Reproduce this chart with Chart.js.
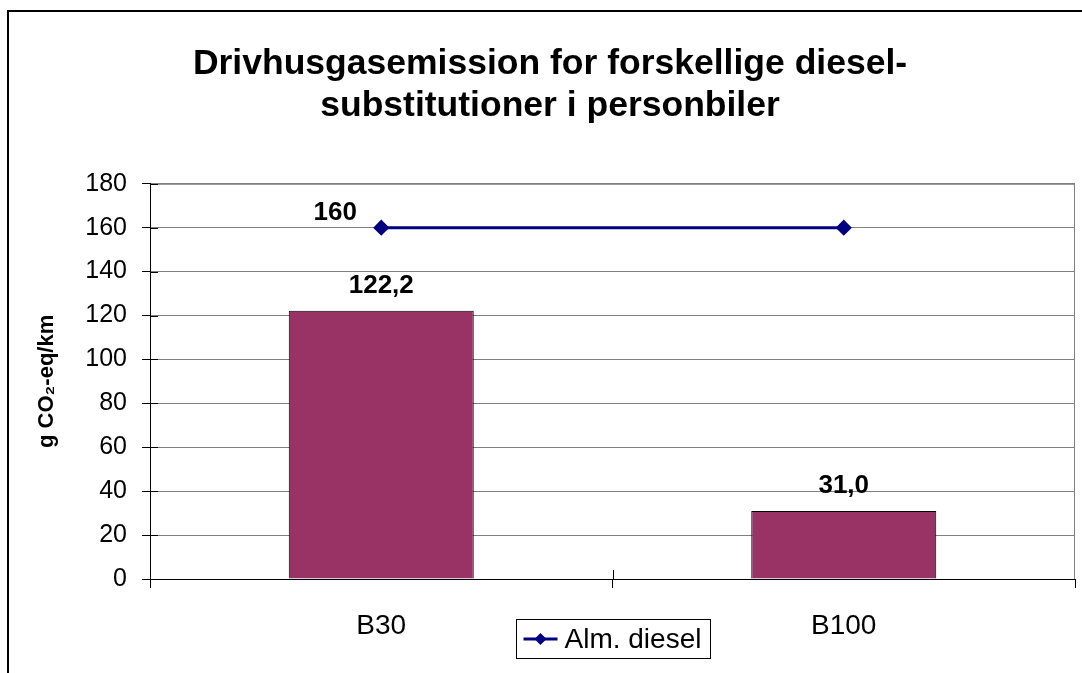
<!DOCTYPE html>
<html>
<head>
<meta charset="utf-8">
<script src="https://cdn.jsdelivr.net/npm/chart.js@4.4.1/dist/chart.umd.min.js"></script>
<style>
  html, body { margin: 0; padding: 0; background: #fff; overflow: hidden; }
  #ramme { position: absolute; left: 7px; top: 10px; width: 1100px; height: 700px; border-left: 2px solid #000; border-top: 2px solid #000; }
  #boks { position: absolute; left: 0; top: 0; width: 1082px; height: 661px; }
</style>
</head>
<body>
<div id="ramme"><div id="boks"><canvas id="graf"></canvas></div></div>
<script>
const kategorier = ['B30', 'B100'];
const biodieselVaerdier = [122.2, 31.0];
const almDiesel = [160, 160];
const yTicks = [0, 20, 40, 60, 80, 100, 120, 140, 160, 180];

const skrift = 'Arial, "Liberation Sans", sans-serif';
Chart.defaults.font.family = skrift;
Chart.defaults.color = '#000';

function komma(v, dec) {
    return v.toFixed(dec).replace('.', ',');
}

// grå ramme om plotområdet + krydsende akse-streger
const plotRamme = {
    id: 'plotRamme',
    beforeDraw(chart) {
        const a = chart.chartArea, ctx = chart.ctx;
        ctx.save();
        ctx.strokeStyle = '#808080';
        ctx.lineWidth = 1;
        ctx.strokeRect(a.left + 0.5, a.top + 0.5, a.right - a.left - 1, a.bottom - a.top);
        ctx.restore();
    },
    afterDraw(chart) {
        const a = chart.chartArea, ctx = chart.ctx;
        const y = chart.scales.y, x = chart.scales.x;
        ctx.save();
        ctx.strokeStyle = '#000';
        ctx.lineWidth = 1;
        ctx.beginPath();
        yTicks.forEach(v => {
            const py = Math.round(y.getPixelForValue(v)) + 0.5;
            ctx.moveTo(a.left, py);
            ctx.lineTo(a.left + 8, py);
        });
        for (let i = 1; i < kategorier.length; i++) {
            const px = Math.round((x.getPixelForValue(i - 1) + x.getPixelForValue(i)) / 2) + 0.5;
            ctx.moveTo(px, a.bottom);
            ctx.lineTo(px, a.bottom - 9);
        }
        ctx.stroke();
        ctx.restore();
    }
};

// værdier over søjler og ved linjen
const etiketter = {
    id: 'etiketter',
    afterDatasetsDraw(chart) {
        const ctx = chart.ctx;
        ctx.save();
        ctx.font = 'bold 26px ' + skrift;
        ctx.fillStyle = '#000';
        ctx.textAlign = 'center';
        ctx.textBaseline = 'middle';
        chart.getDatasetMeta(0).data.forEach((bar, i) => {
            ctx.fillText(komma(biodieselVaerdier[i], 1), bar.x, bar.y - 25);
        });
        const p = chart.getDatasetMeta(1).data[0];
        ctx.fillText(komma(almDiesel[0], 0), p.x - 46, p.y - 15);
        ctx.restore();
    }
};

// forklaring med ramme, kun for linjen
const forklaring = {
    id: 'forklaring',
    afterDraw(chart) {
        const ctx = chart.ctx, a = chart.chartArea;
        const ds = chart.data.datasets[1];
        ctx.save();
        ctx.font = '28px ' + skrift;
        const tw = ctx.measureText(ds.label).width;
        const w = Math.round(tw + 57), h = 39;
        const x = Math.round((a.left + a.right) / 2 - w / 2) + 0.5;
        const y = Math.round(a.bottom) + 40.5;
        ctx.fillStyle = '#fff';
        ctx.fillRect(x, y, w, h);
        ctx.strokeStyle = '#000';
        ctx.lineWidth = 1;
        ctx.strokeRect(x, y, w, h);
        const cy = y + h / 2;
        ctx.strokeStyle = ds.borderColor;
        ctx.lineWidth = 3;
        ctx.beginPath();
        ctx.moveTo(x + 7, cy);
        ctx.lineTo(x + 41, cy);
        ctx.stroke();
        ctx.fillStyle = ds.borderColor;
        ctx.beginPath();
        ctx.moveTo(x + 24, cy - 6);
        ctx.lineTo(x + 30, cy);
        ctx.lineTo(x + 24, cy + 6);
        ctx.lineTo(x + 18, cy);
        ctx.closePath();
        ctx.fill();
        ctx.fillStyle = '#000';
        ctx.textAlign = 'left';
        ctx.textBaseline = 'middle';
        ctx.fillText(ds.label, x + 48, cy + 1);
        ctx.restore();
    }
};

new Chart(document.getElementById('graf'), {
    data: {
        labels: kategorier,
        datasets: [
            {
                type: 'bar',
                label: 'Biodiesel',
                data: biodieselVaerdier,
                backgroundColor: '#993366',
                borderColor: '#000',
                borderWidth: 1,
                barPercentage: 0.4,
                categoryPercentage: 1,
                order: 2
            },
            {
                type: 'line',
                label: 'Alm. diesel',
                data: almDiesel,
                borderColor: '#000080',
                backgroundColor: '#000080',
                borderWidth: 3,
                pointStyle: 'rectRot',
                pointRadius: 6,
                pointHoverRadius: 6,
                order: 1
            }
        ]
    },
    options: {
        responsive: true,
        maintainAspectRatio: false,
        animation: false,
        layout: { padding: 0 },
        plugins: {
            legend: { display: false },
            tooltip: { enabled: false },
            title: {
                display: true,
                text: ['Drivhusgasemission for forskellige diesel-', 'substitutioner i personbiler'],
                color: '#000',
                font: { size: 35.5, weight: 'bold', lineHeight: 1.18 },
                padding: { top: 31, bottom: 57 }
            }
        },
        scales: {
            x: {
                offset: true,
                grid: { display: true, drawOnChartArea: false, offset: true, tickLength: 9, color: '#000', tickColor: '#000' },
                border: { color: '#000', width: 1 },
                ticks: { color: '#000', font: { size: 28 }, padding: 21 },
                afterFit(s) { s.height = 94; }
            },
            y: {
                min: 0,
                max: 180,
                afterBuildTicks(s) { s.ticks = yTicks.map(v => ({ value: v })); },
                grid: { color: '#808080', tickColor: '#000', tickLength: 8 },
                border: { color: '#000' },
                ticks: { color: '#000', font: { size: 25 }, padding: 15 },
                title: {
                    display: true,
                    text: 'g CO₂-eq/km',
                    color: '#000',
                    font: { size: 22, weight: 'bold' },
                    padding: { top: 25, bottom: 0 }
                },
                afterFit(s) { s.width = 141; }
            },
            hoejre: {
                type: 'linear',
                position: 'right',
                display: true,
                grid: { display: false },
                border: { display: false },
                ticks: { display: false },
                afterFit(s) { s.width = 16; }
            }
        }
    },
    plugins: [plotRamme, etiketter, forklaring]
});
</script>
</body>
</html>
